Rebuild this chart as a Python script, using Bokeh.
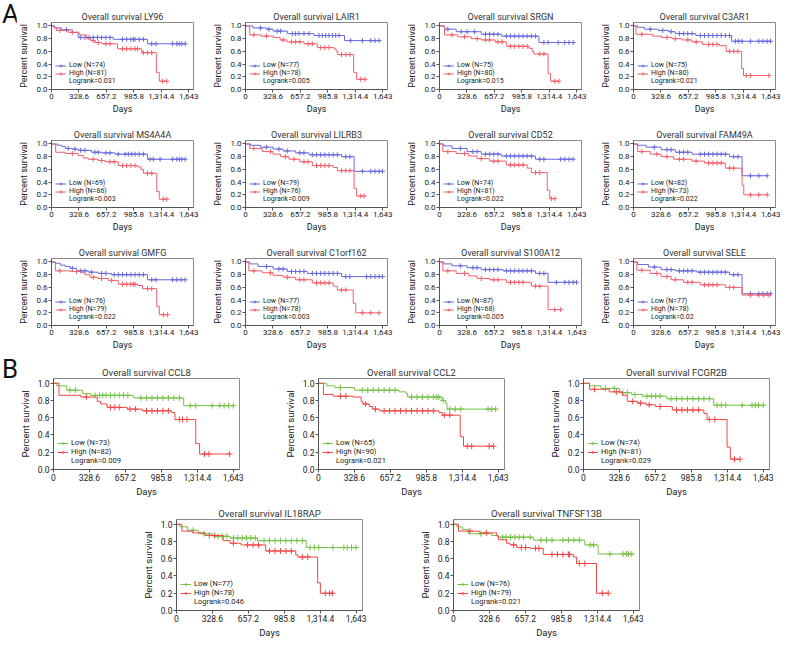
import numpy as np
from bokeh.plotting import figure
from bokeh.models import (Range1d, FixedTicker, NumeralTickFormatter, PrintfTickFormatter,
                          Legend, LegendItem, Spacer, Div)
from bokeh.layouts import row, column
from bokeh.embed import file_html
from bokeh.resources import INLINE

FONT = "Roboto"
X_TICKS = [0, 328.6, 657.2, 985.8, 1314.4, 1643]
Y_TICKS = [0.0, 0.2, 0.4, 0.6, 0.8, 1.0]

# ---------------- Panel A data (times in days, survival after each event, censor times)
LY96_N = (74, 81); LY96_P = "0.031"
LY96_LOW_T = [40, 120, 250, 320, 740, 1150]
LY96_LOW_S = [0.97, 0.94, 0.90, 0.82, 0.79, 0.72]
LY96_LOW_C = [180, 350, 400, 450, 500, 550, 600, 650, 700, 850, 900, 950, 980, 1000, 1050, 1100, 1200, 1250, 1450, 1500, 1530, 1560, 1600]
LY96_HIGH_T = [30, 60, 200, 330, 420, 470, 520, 600, 790, 1080, 1255, 1290]
LY96_HIGH_S = [0.97, 0.93, 0.90, 0.86, 0.80, 0.77, 0.74, 0.72, 0.64, 0.58, 0.27, 0.13]
LY96_HIGH_C = [100, 250, 500, 560, 650, 700, 850, 900, 950, 1000, 1030, 1100, 1150, 1200, 1330, 1380]

LAIR1_N = (77, 78); LAIR1_P = "0.005"
LAIR1_LOW_T = [90, 250, 330, 500, 820, 1185]
LAIR1_LOW_S = [0.97, 0.95, 0.92, 0.88, 0.85, 0.77]
LAIR1_LOW_C = [180, 280, 380, 420, 560, 600, 640, 700, 760, 880, 920, 960, 1000, 1040, 1080, 1120, 1260, 1400, 1500, 1550, 1600]
LAIR1_HIGH_T = [50, 190, 330, 415, 495, 700, 860, 1060, 1085, 1105, 1295, 1330]
LAIR1_HIGH_S = [0.86, 0.84, 0.82, 0.78, 0.75, 0.72, 0.66, 0.64, 0.60, 0.55, 0.27, 0.16]
LAIR1_HIGH_C = [100, 250, 450, 550, 600, 650, 750, 800, 900, 950, 1000, 1150, 1200, 1250, 1380, 1430]

SRGN_N = (75, 80); SRGN_P = "0.015"
SRGN_LOW_T = [60, 200, 500, 745, 1190]
SRGN_LOW_S = [0.95, 0.91, 0.87, 0.84, 0.74]
SRGN_LOW_C = [100, 260, 330, 420, 550, 600, 650, 700, 800, 850, 900, 950, 1000, 1050, 1100, 1150, 1250, 1300, 1420, 1500, 1550, 1600]
SRGN_HIGH_T = [60, 220, 380, 500, 665, 805, 1070, 1110, 1130, 1300, 1330]
SRGN_HIGH_S = [0.86, 0.83, 0.80, 0.78, 0.75, 0.68, 0.65, 0.60, 0.56, 0.25, 0.13]
SRGN_HIGH_C = [150, 300, 450, 550, 600, 700, 750, 850, 900, 950, 1000, 1050, 1200, 1250, 1380, 1430]

C3AR1_N = (75, 80); C3AR1_P = "0.021"
C3AR1_LOW_T = [50, 130, 300, 420, 500, 745, 1175]
C3AR1_LOW_S = [0.98, 0.95, 0.93, 0.91, 0.88, 0.85, 0.76]
C3AR1_LOW_C = [200, 350, 450, 550, 600, 650, 700, 800, 850, 900, 950, 1000, 1050, 1100, 1150, 1220, 1260, 1300, 1400, 1500, 1550, 1600, 1640]
C3AR1_HIGH_T = [30, 230, 335, 460, 580, 700, 825, 1030, 1110, 1295, 1317]
C3AR1_HIGH_S = [0.87, 0.84, 0.82, 0.80, 0.78, 0.75, 0.71, 0.69, 0.60, 0.33, 0.22]
C3AR1_HIGH_C = [100, 400, 500, 650, 750, 900, 950, 1000, 1150, 1200, 1250, 1350, 1400, 1620]

MS4A4A_N = (69, 86); MS4A4A_P = "0.003"
MS4A4A_LOW_T = [70, 125, 165, 245, 320, 480, 600, 760, 1150]
MS4A4A_LOW_S = [0.98, 0.96, 0.93, 0.92, 0.90, 0.87, 0.86, 0.84, 0.76]
MS4A4A_LOW_C = [200, 280, 350, 400, 520, 560, 650, 700, 800, 880, 920, 960, 1000, 1050, 1100, 1180, 1220, 1300, 1450, 1500, 1530, 1560, 1600]
MS4A4A_HIGH_T = [50, 165, 320, 380, 440, 560, 640, 800, 1030, 1070, 1100, 1260, 1290]
MS4A4A_HIGH_S = [0.87, 0.85, 0.82, 0.78, 0.76, 0.74, 0.72, 0.66, 0.64, 0.60, 0.54, 0.25, 0.13]
MS4A4A_HIGH_C = [250, 500, 600, 700, 750, 850, 900, 950, 1000, 1150, 1200, 1340, 1380]

LILRB3_N = (79, 76); LILRB3_P = "0.009"
LILRB3_LOW_T = [60, 180, 330, 450, 600, 760, 1150, 1300]
LILRB3_LOW_S = [0.98, 0.95, 0.92, 0.89, 0.86, 0.83, 0.80, 0.57]
LILRB3_LOW_C = [250, 400, 500, 650, 700, 800, 850, 900, 950, 1000, 1050, 1100, 1200, 1250, 1400, 1500, 1550, 1600, 1640]
LILRB3_HIGH_T = [50, 200, 330, 420, 520, 650, 800, 1050, 1100, 1300, 1330]
LILRB3_HIGH_S = [0.93, 0.88, 0.84, 0.80, 0.76, 0.72, 0.66, 0.63, 0.58, 0.30, 0.18]
LILRB3_HIGH_C = [100, 300, 480, 580, 700, 750, 850, 900, 950, 1000, 1150, 1200, 1250, 1380, 1420]

CD52_N = (74, 81); CD52_P = "0.022"
CD52_LOW_T = [50, 150, 330, 500, 740, 1150]
CD52_LOW_S = [0.97, 0.93, 0.88, 0.84, 0.81, 0.76]
CD52_LOW_C = [250, 400, 450, 550, 600, 650, 700, 800, 850, 900, 950, 1000, 1050, 1100, 1200, 1250, 1450, 1500, 1550, 1600]
CD52_HIGH_T = [40, 200, 350, 450, 600, 800, 1050, 1100, 1290, 1320]
CD52_HIGH_S = [0.88, 0.85, 0.81, 0.77, 0.73, 0.67, 0.62, 0.55, 0.27, 0.14]
CD52_HIGH_C = [100, 300, 500, 650, 700, 850, 900, 950, 1000, 1150, 1200, 1340, 1380]

FAM49A_N = (82, 73); FAM49A_P = "0.022"
FAM49A_LOW_T = [40, 150, 330, 500, 700, 1150, 1300]
FAM49A_LOW_S = [0.98, 0.95, 0.91, 0.87, 0.84, 0.80, 0.50]
FAM49A_LOW_C = [250, 400, 450, 550, 600, 650, 800, 850, 900, 950, 1000, 1050, 1100, 1200, 1250, 1400, 1500, 1600]
FAM49A_HIGH_T = [50, 200, 330, 480, 700, 850, 1100, 1300, 1320]
FAM49A_HIGH_S = [0.88, 0.84, 0.80, 0.76, 0.73, 0.70, 0.62, 0.35, 0.20]
FAM49A_HIGH_C = [100, 280, 400, 550, 600, 750, 900, 950, 1000, 1050, 1150, 1200, 1400, 1500, 1600]

GMFG_N = (76, 79); GMFG_P = "0.022"
GMFG_LOW_T = [47, 106, 165, 225, 300, 440, 560, 717, 1150]
GMFG_LOW_S = [0.98, 0.95, 0.93, 0.90, 0.86, 0.84, 0.82, 0.80, 0.72]
GMFG_LOW_C = [250, 350, 400, 480, 600, 650, 750, 800, 850, 900, 950, 1000, 1050, 1100, 1200, 1250, 1450, 1500, 1550, 1600]
GMFG_HIGH_T = [47, 225, 360, 400, 460, 560, 680, 800, 1030, 1090, 1260, 1290]
GMFG_HIGH_S = [0.86, 0.85, 0.83, 0.80, 0.76, 0.74, 0.71, 0.65, 0.63, 0.58, 0.30, 0.17]
GMFG_HIGH_C = [100, 300, 500, 600, 720, 850, 900, 950, 980, 1000, 1150, 1200, 1340, 1390]

C1ORF162_N = (77, 78); C1ORF162_P = "0.003"
C1ORF162_LOW_T = [50, 150, 330, 500, 740, 1150]
C1ORF162_LOW_S = [0.97, 0.93, 0.89, 0.85, 0.82, 0.77]
C1ORF162_LOW_C = [250, 400, 450, 550, 600, 650, 700, 800, 850, 900, 950, 1000, 1050, 1100, 1200, 1250, 1450, 1500, 1550, 1600, 1640]
C1ORF162_HIGH_T = [40, 200, 330, 450, 600, 800, 1050, 1100, 1290, 1320]
C1ORF162_HIGH_S = [0.86, 0.83, 0.79, 0.76, 0.72, 0.67, 0.62, 0.56, 0.35, 0.20]
C1ORF162_HIGH_C = [100, 300, 500, 650, 700, 850, 900, 950, 1000, 1150, 1200, 1400, 1500, 1600]

S100A12_N = (87, 68); S100A12_P = "0.005"
S100A12_LOW_T = [50, 150, 330, 500, 760, 1150, 1300]
S100A12_LOW_S = [0.97, 0.94, 0.91, 0.88, 0.86, 0.82, 0.68]
S100A12_LOW_C = [250, 400, 450, 550, 600, 650, 700, 800, 850, 900, 950, 1000, 1050, 1100, 1200, 1250, 1400, 1500, 1550, 1600, 1640]
S100A12_HIGH_T = [40, 200, 350, 450, 600, 800, 1100, 1300]
S100A12_HIGH_S = [0.86, 0.82, 0.78, 0.74, 0.72, 0.68, 0.62, 0.25]
S100A12_HIGH_C = [100, 300, 500, 650, 700, 850, 900, 950, 1000, 1150, 1200, 1380, 1450]

SELE_N = (77, 78); SELE_P = "0.02"
SELE_LOW_T = [50, 180, 330, 500, 760, 1150, 1300]
SELE_LOW_S = [0.96, 0.92, 0.88, 0.86, 0.84, 0.80, 0.50]
SELE_LOW_C = [250, 400, 450, 550, 600, 650, 700, 800, 850, 900, 950, 1000, 1050, 1100, 1200, 1250, 1400, 1500, 1550, 1600, 1640]
SELE_HIGH_T = [40, 200, 330, 450, 600, 800, 1100, 1300]
SELE_HIGH_S = [0.87, 0.82, 0.77, 0.72, 0.68, 0.64, 0.60, 0.48]
SELE_HIGH_C = [100, 280, 400, 500, 650, 700, 850, 900, 950, 1000, 1150, 1200, 1400, 1500, 1560, 1620]

# ---------------- Panel B data
CCL8_N = (73, 82); CCL8_P = "0.009"
CCL8_LOW_T = [30, 120, 264, 340, 733, 1190]
CCL8_LOW_S = [0.97, 0.92, 0.88, 0.86, 0.83, 0.74]
CCL8_LOW_C = [150, 200, 380, 420, 450, 480, 520, 560, 600, 640, 680, 800, 850, 900, 950, 1000, 1050, 1100, 1150, 1250, 1300, 1450, 1520, 1560, 1600, 1643]
CCL8_HIGH_T = [50, 250, 400, 430, 490, 673, 810, 1080, 1110, 1300, 1335]
CCL8_HIGH_S = [0.86, 0.84, 0.79, 0.76, 0.72, 0.70, 0.68, 0.66, 0.58, 0.30, 0.18]
CCL8_HIGH_C = [300, 520, 560, 600, 700, 750, 850, 900, 950, 1000, 1050, 1150, 1180, 1220, 1380, 1420, 1610]

CCL2_N = (65, 90); CCL2_P = "0.021"
CCL2_LOW_T = [75, 150, 330, 737, 800, 815, 1130, 1160, 1175]
CCL2_LOW_S = [0.97, 0.95, 0.92, 0.90, 0.88, 0.84, 0.80, 0.77, 0.70]
CCL2_LOW_C = [200, 400, 450, 500, 550, 600, 650, 700, 850, 900, 950, 1000, 1050, 1080, 1100, 1140, 1200, 1250, 1300, 1550, 1580, 1620]
CCL2_HIGH_T = [45, 135, 316, 390, 405, 465, 496, 556, 1100, 1130, 1295, 1325]
CCL2_HIGH_S = [0.87, 0.85, 0.84, 0.79, 0.76, 0.73, 0.70, 0.68, 0.66, 0.63, 0.38, 0.27]
CCL2_HIGH_C = [200, 250, 430, 520, 600, 650, 700, 750, 800, 850, 900, 950, 1000, 1050, 1150, 1200, 1360, 1400, 1560, 1600]

FCGR2B_N = (74, 81); FCGR2B_P = "0.029"
FCGR2B_LOW_T = [55, 160, 330, 440, 540, 760, 1190]
FCGR2B_LOW_S = [0.97, 0.94, 0.89, 0.87, 0.85, 0.82, 0.745]
FCGR2B_LOW_C = [200, 280, 360, 400, 470, 580, 620, 660, 700, 800, 850, 900, 950, 1000, 1050, 1100, 1150, 1220, 1260, 1300, 1450, 1540, 1570, 1600, 1643]
FCGR2B_HIGH_T = [55, 236, 357, 400, 494, 570, 660, 812, 1100, 1130, 1312, 1342]
FCGR2B_HIGH_S = [0.93, 0.90, 0.86, 0.79, 0.77, 0.75, 0.73, 0.69, 0.65, 0.58, 0.26, 0.12]
FCGR2B_HIGH_C = [100, 300, 450, 520, 600, 700, 850, 900, 950, 1000, 1050, 1150, 1200, 1380, 1430]

IL18RAP_N = (77, 78); IL18RAP_P = "0.046"
IL18RAP_LOW_T = [30, 100, 200, 330, 490, 740, 1186]
IL18RAP_LOW_S = [0.97, 0.93, 0.89, 0.86, 0.84, 0.81, 0.73]
IL18RAP_LOW_C = [150, 250, 380, 420, 460, 520, 560, 600, 640, 680, 720, 800, 850, 900, 950, 1000, 1050, 1100, 1150, 1220, 1260, 1300, 1430, 1530, 1560, 1600, 1640]
IL18RAP_HIGH_T = [50, 150, 262, 426, 490, 590, 815, 1090, 1110, 1290, 1315]
IL18RAP_HIGH_S = [0.92, 0.90, 0.87, 0.81, 0.78, 0.76, 0.69, 0.645, 0.62, 0.32, 0.20]
IL18RAP_HIGH_C = [300, 350, 520, 650, 700, 750, 850, 900, 950, 1000, 1050, 1150, 1200, 1360, 1400, 1425]

TNFSF13B_N = (76, 79); TNFSF13B_P = "0.021"
TNFSF13B_LOW_T = [30, 80, 137, 350, 410, 730, 1200, 1322]
TNFSF13B_LOW_S = [0.97, 0.94, 0.89, 0.87, 0.85, 0.815, 0.76, 0.655]
TNFSF13B_LOW_C = [250, 450, 480, 520, 560, 600, 640, 700, 800, 850, 900, 1000, 1050, 1100, 1150, 1250, 1280, 1430, 1550, 1580, 1600, 1630]
TNFSF13B_HIGH_T = [45, 240, 395, 410, 486, 517, 578, 700, 820, 1094, 1125, 1307]
TNFSF13B_HIGH_S = [0.92, 0.90, 0.865, 0.82, 0.78, 0.76, 0.73, 0.72, 0.65, 0.62, 0.545, 0.20]
TNFSF13B_HIGH_C = [150, 300, 550, 620, 660, 750, 780, 900, 950, 1000, 1050, 1060, 1150, 1200, 1360, 1414]

A_COLORS = ("#6769da", "#f2606b")
B_COLORS = ("#74c146", "#f04646")

A_STYLE = dict(fw=142, fh=67, title_fs="9px", tick_fs="8px", lab_fs="9px", leg_fs="7px",
               msize=5, leg_h=7, title_standoff=2)
B_STYLE = dict(fw=186, fh=91, title_fs="9.5px", tick_fs="8.5px", lab_fs="9.5px", leg_fs="7.5px",
               msize=6, leg_h=8, title_standoff=1)


def add_curve(p, t, s, c, color, msize):
    end = max([t[-1]] + list(c))
    xs = [0] + list(t) + [end]
    ys = [1.0] + list(s) + [s[-1]]
    r1 = p.step(xs, ys, mode="after", line_color=color, line_width=1)
    levels = np.array([1.0] + list(s))
    idx = np.searchsorted(np.array(t), np.array(c), side="right")
    r2 = p.scatter(list(c), list(levels[idx]), marker="cross", size=msize,
                   line_color=color, line_width=1)
    return [r1, r2]


def km_plot(gene, low, high, n, pval, colors, st, L, R, T, B):
    p = figure(frame_width=st["fw"], frame_height=st["fh"],
               x_range=Range1d(0, 1700), y_range=Range1d(0, 1.055),
               output_backend="svg", toolbar_location=None,
               min_border_left=L, min_border_right=R, min_border_top=T, min_border_bottom=B,
               title="Overall survival " + gene)
    p.title.text_font = FONT
    p.title.text_font_size = st["title_fs"]
    p.title.text_font_style = "normal"
    p.title.align = "center"
    p.title.standoff = st["title_standoff"]
    p.title.text_color = "#333333"
    p.grid.visible = False
    p.outline_line_color = "#8a8a8a"
    p.background_fill_color = "white"
    p.border_fill_color = "white"

    p.xaxis.ticker = FixedTicker(ticks=X_TICKS)
    p.xaxis.formatter = NumeralTickFormatter(format="0,0.[0]")
    p.yaxis.ticker = FixedTicker(ticks=Y_TICKS)
    p.yaxis.formatter = PrintfTickFormatter(format="%.1f")
    p.xaxis.axis_label = "Days"
    p.yaxis.axis_label = "Percent survival"
    for ax in (p.xaxis[0], p.yaxis[0]):
        ax.axis_label_text_font = FONT
        ax.axis_label_text_font_size = st["lab_fs"]
        ax.axis_label_text_font_style = "normal"
        ax.axis_label_text_color = "#222222"
        ax.major_label_text_font = FONT
        ax.major_label_text_font_size = st["tick_fs"]
        ax.major_label_text_color = "#222222"
        ax.axis_line_color = "#555555"
        ax.major_tick_line_color = "#555555"
        ax.major_tick_out = 3
        ax.major_tick_in = 0
        ax.minor_tick_line_color = None
        ax.major_label_standoff = 1
    p.xaxis.axis_label_standoff = 2
    p.yaxis.axis_label_standoff = 4

    r_low = add_curve(p, *low, colors[0], st["msize"])
    r_high = add_curve(p, *high, colors[1], st["msize"])
    r_blank = p.line([0, 1], [0, 0], line_alpha=0)
    items = [LegendItem(label="Low (N=%d)" % n[0], renderers=r_low),
             LegendItem(label="High (N=%d)" % n[1], renderers=r_high),
             LegendItem(label="Logrank=" + pval, renderers=[r_blank])]
    leg = Legend(items=items, location="bottom_left")
    leg.label_text_font = FONT
    leg.label_text_font_size = st["leg_fs"]
    leg.label_text_color = "#222222"
    leg.glyph_width = 11
    leg.glyph_height = st["leg_h"]
    leg.label_height = st["leg_h"]
    leg.label_standoff = 3
    leg.spacing = 0
    leg.padding = 2
    leg.margin = 2
    leg.background_fill_alpha = 0
    leg.border_line_alpha = 0
    p.add_layout(leg)
    return p


def A(gene, n, pval, low, high, L, R, T, B):
    return km_plot(gene, low, high, n, pval, A_COLORS, A_STYLE, L, R, T, B)


def Bp(gene, n, pval, low, high, L, R, T, B):
    return km_plot(gene, low, high, n, pval, B_COLORS, B_STYLE, L, R, T, B)


def letter(txt, h):
    return Div(text=txt, width=16, height=h, margin=0,
               styles={"font-family": FONT, "font-size": "26px", "line-height": "26px",
                       "color": "#111111", "padding-top": "1px", "padding-left": "2px"})


rowA1 = row(
    A("LY96", LY96_N, LY96_P, (LY96_LOW_T, LY96_LOW_S, LY96_LOW_C), (LY96_HIGH_T, LY96_HIGH_S, LY96_HIGH_C), 32, 12, 22, 35),
    A("LAIR1", LAIR1_N, LAIR1_P, (LAIR1_LOW_T, LAIR1_LOW_S, LAIR1_LOW_C), (LAIR1_HIGH_T, LAIR1_HIGH_S, LAIR1_HIGH_C), 40, 12, 22, 35),
    A("SRGN", SRGN_N, SRGN_P, (SRGN_LOW_T, SRGN_LOW_S, SRGN_LOW_C), (SRGN_HIGH_T, SRGN_HIGH_S, SRGN_HIGH_C), 40, 12, 22, 35),
    A("C3AR1", C3AR1_N, C3AR1_P, (C3AR1_LOW_T, C3AR1_LOW_S, C3AR1_LOW_C), (C3AR1_HIGH_T, C3AR1_HIGH_S, C3AR1_HIGH_C), 40, 12, 22, 35),
)
rowA2 = row(
    A("MS4A4A", MS4A4A_N, MS4A4A_P, (MS4A4A_LOW_T, MS4A4A_LOW_S, MS4A4A_LOW_C), (MS4A4A_HIGH_T, MS4A4A_HIGH_S, MS4A4A_HIGH_C), 32, 12, 16, 35),
    A("LILRB3", LILRB3_N, LILRB3_P, (LILRB3_LOW_T, LILRB3_LOW_S, LILRB3_LOW_C), (LILRB3_HIGH_T, LILRB3_HIGH_S, LILRB3_HIGH_C), 40, 12, 16, 35),
    A("CD52", CD52_N, CD52_P, (CD52_LOW_T, CD52_LOW_S, CD52_LOW_C), (CD52_HIGH_T, CD52_HIGH_S, CD52_HIGH_C), 40, 12, 16, 35),
    A("FAM49A", FAM49A_N, FAM49A_P, (FAM49A_LOW_T, FAM49A_LOW_S, FAM49A_LOW_C), (FAM49A_HIGH_T, FAM49A_HIGH_S, FAM49A_HIGH_C), 40, 12, 16, 35),
)
rowA3 = row(
    A("GMFG", GMFG_N, GMFG_P, (GMFG_LOW_T, GMFG_LOW_S, GMFG_LOW_C), (GMFG_HIGH_T, GMFG_HIGH_S, GMFG_HIGH_C), 32, 12, 16, 30),
    A("C1orf162", C1ORF162_N, C1ORF162_P, (C1ORF162_LOW_T, C1ORF162_LOW_S, C1ORF162_LOW_C), (C1ORF162_HIGH_T, C1ORF162_HIGH_S, C1ORF162_HIGH_C), 40, 12, 16, 30),
    A("S100A12", S100A12_N, S100A12_P, (S100A12_LOW_T, S100A12_LOW_S, S100A12_LOW_C), (S100A12_HIGH_T, S100A12_HIGH_S, S100A12_HIGH_C), 40, 12, 16, 30),
    A("SELE", SELE_N, SELE_P, (SELE_LOW_T, SELE_LOW_S, SELE_LOW_C), (SELE_HIGH_T, SELE_HIGH_S, SELE_HIGH_C), 40, 12, 16, 30),
)
rowB1 = row(
    letter("B", 30),
    Bp("CCL8", CCL8_N, CCL8_P, (CCL8_LOW_T, CCL8_LOW_S, CCL8_LOW_C), (CCL8_HIGH_T, CCL8_HIGH_S, CCL8_HIGH_C), 34, 37, 23, 36),
    Bp("CCL2", CCL2_N, CCL2_P, (CCL2_LOW_T, CCL2_LOW_S, CCL2_LOW_C), (CCL2_HIGH_T, CCL2_HIGH_S, CCL2_HIGH_C), 42, 37, 23, 36),
    Bp("FCGR2B", FCGR2B_N, FCGR2B_P, (FCGR2B_LOW_T, FCGR2B_LOW_S, FCGR2B_LOW_C), (FCGR2B_HIGH_T, FCGR2B_HIGH_S, FCGR2B_HIGH_C), 42, 18, 23, 36),
)
rowB2 = row(
    Spacer(width=134, height=10),
    Bp("IL18RAP", IL18RAP_N, IL18RAP_P, (IL18RAP_LOW_T, IL18RAP_LOW_S, IL18RAP_LOW_C), (IL18RAP_HIGH_T, IL18RAP_HIGH_S, IL18RAP_HIGH_C), 42, 49, 13, 30),
    Bp("TNFSF13B", TNFSF13B_N, TNFSF13B_P, (TNFSF13B_LOW_T, TNFSF13B_LOW_S, TNFSF13B_LOW_C), (TNFSF13B_HIGH_T, TNFSF13B_HIGH_S, TNFSF13B_HIGH_C), 42, 10, 13, 30),
)

blockA = row(letter("A", 30), column(rowA1, rowA2, rowA3))
layout = column(blockA, rowB1, rowB2)
open("out.html", "w").write(file_html(layout, INLINE))
